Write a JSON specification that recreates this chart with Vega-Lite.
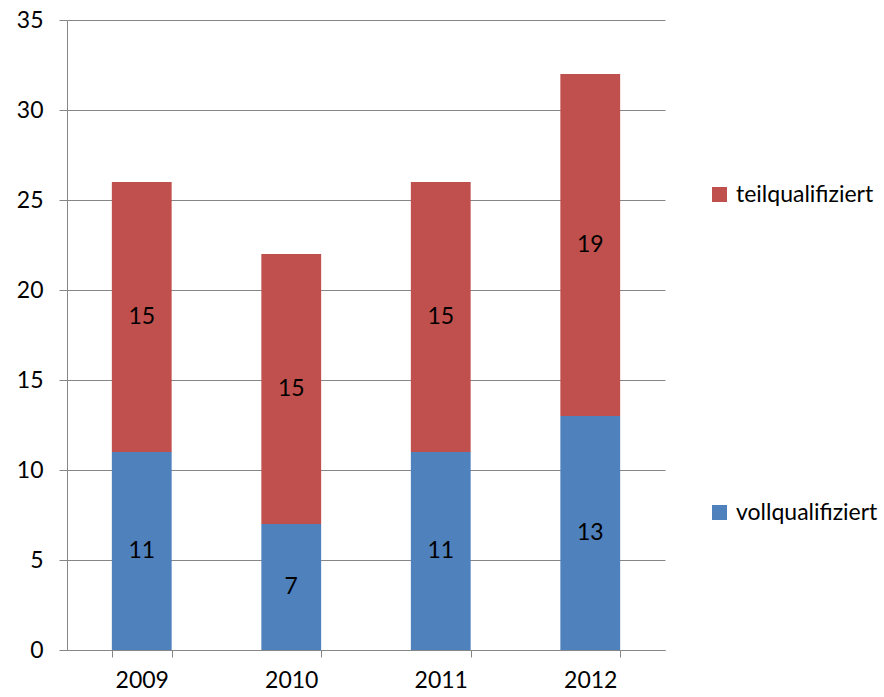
{
  "$schema": "https://vega.github.io/schema/vega-lite/v6.json",
  "width": 598,
  "height": 630,
  "autosize": {"type": "none"},
  "padding": {"left": 67, "top": 20, "right": 219, "bottom": 47},
  "background": "white",
  "config": {
    "view": {"stroke": null},
    "font": "Lato",
    "axis": {"labelFont": "Lato", "labelFontSize": 23, "labelColor": "#000000", "domainColor": "#868686", "tickColor": "#868686", "gridColor": "#868686", "title": null},
    "legend": {"labelFont": "Lato", "labelFontSize": 23, "labelColor": "#000000"}
  },
  "data": {
    "values": [
      {"year": "2009", "type": "vollqualifiziert", "value": 11},
      {"year": "2009", "type": "teilqualifiziert", "value": 15},
      {"year": "2010", "type": "vollqualifiziert", "value": 7},
      {"year": "2010", "type": "teilqualifiziert", "value": 15},
      {"year": "2011", "type": "vollqualifiziert", "value": 11},
      {"year": "2011", "type": "teilqualifiziert", "value": 15},
      {"year": "2012", "type": "vollqualifiziert", "value": 13},
      {"year": "2012", "type": "teilqualifiziert", "value": 19}
    ]
  },
  "transform": [
    {"stack": "value", "groupby": ["year"], "sort": [{"field": "type", "order": "descending"}], "as": ["v0", "v1"]},
    {"calculate": "(datum.v0 + datum.v1) / 2", "as": "mid"}
  ],
  "encoding": {
    "x": {
      "field": "year", "type": "nominal",
      "scale": {"paddingInner": 0.6, "paddingOuter": 0.3},
      "axis": {"labelAngle": 0, "tickBand": "extent", "tickSize": 7, "labelPadding": 12, "domainWidth": 1}
    }
  },
  "layer": [
    {
      "mark": {"type": "bar"},
      "encoding": {
        "y": {
          "field": "v0", "type": "quantitative",
          "scale": {"domain": [0, 35], "nice": false},
          "axis": {"values": [0, 5, 10, 15, 20, 25, 30, 35], "grid": true, "tickSize": 8, "labelPadding": 16, "domain": true}
        },
        "y2": {"field": "v1"},
        "color": {
          "field": "type", "type": "nominal",
          "scale": {"domain": ["teilqualifiziert", "vollqualifiziert"], "range": ["#C0504D", "#4F81BD"]},
          "legend": {"title": null, "orient": "none", "legendX": 641, "legendY": 163, "symbolType": "square", "symbolSize": 225, "symbolStrokeWidth": 0, "labelOffset": 5, "rowPadding": 294}
        }
      }
    },
    {
      "mark": {"type": "text", "fontSize": 23, "color": "#000000", "font": "Lato"},
      "encoding": {
        "y": {"field": "mid", "type": "quantitative"},
        "text": {"field": "value", "type": "quantitative"}
      }
    }
  ]
}
